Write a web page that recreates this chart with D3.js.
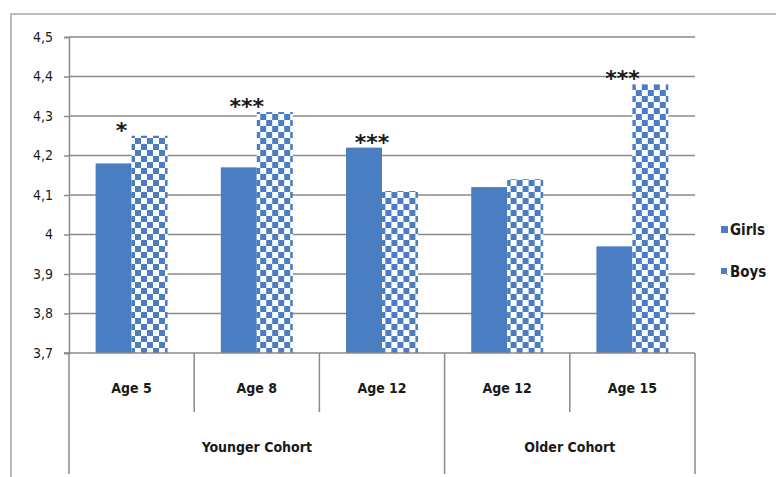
<!DOCTYPE html>
<html>
<head>
<meta charset="utf-8">
<script src="https://cdn.jsdelivr.net/npm/d3@7"></script>
<style>
  html, body { margin: 0; padding: 0; background: #fff; }
  svg { display: block; }
  text { font-family: "Liberation Sans Narrow", "DejaVu Sans Condensed", "Liberation Sans", Arial, sans-serif; fill: #1a1a1a; }
</style>
</head>
<body>
<svg id="chart" width="776" height="477"></svg>
<script>
// ---- data ----
const categories = ["Age 5", "Age 8", "Age 12", "Age 12 ", "Age 15"];
const categoryLabels = ["Age 5", "Age 8", "Age 12", "Age 12", "Age 15"];
const cohorts = ["Younger Cohort", "Older Cohort"];
const cohortOfCategory = [0, 0, 0, 1, 1];
const seriesNames = ["Girls", "Boys"];
const girls = [4.18, 4.17, 4.22, 4.12, 3.97];
const boys = [4.25, 4.31, 4.11, 4.14, 4.38];
const significance = ["*", "***", "***", "", "***"];
const yTicks = [3.7, 3.8, 3.9, 4.0, 4.1, 4.2, 4.3, 4.4, 4.5];
const yTickLabels = ["3,7", "3,8", "3,9", "4", "4,1", "4,2", "4,3", "4,4", "4,5"];

(function () {
// ---- layout ----
const svg = d3.select("#chart");
const mLeft = 69, mRight = 695, mTop = 37, mBottom = 353;
const blue = "#4a7dc2";
const grid = "#8a8a8a";

// outer frame (right and bottom edges outside the picture)
svg.append("path")
  .attr("d", `M11,480 L11,14 L790,14`)
  .attr("fill", "none").attr("stroke", "#a8a8a8").attr("stroke-width", 1.5);

// pattern for Boys
const defs = svg.append("defs");
const pat = defs.append("pattern")
  .attr("id", "checker").attr("patternUnits", "userSpaceOnUse")
  .attr("width", 12).attr("height", 12);
pat.append("rect").attr("width", 12).attr("height", 12).attr("fill", "#fff");
pat.append("rect").attr("x", 0).attr("y", 0).attr("width", 6).attr("height", 6).attr("fill", blue);
pat.append("rect").attr("x", 6).attr("y", 6).attr("width", 6).attr("height", 6).attr("fill", blue);

const x0 = d3.scaleBand().domain(categories).range([mLeft, mRight]).paddingInner(0).paddingOuter(0);
const x1 = d3.scaleBand().domain(seriesNames).range([0, x0.bandwidth()]).paddingInner(0).paddingOuter(0.74);
const y = d3.scaleLinear().domain([3.7, 4.5]).range([mBottom, mTop]);

// gridlines & y axis
const yAxis = d3.axisLeft(y).tickValues(yTicks)
  .tickFormat((d, i) => yTickLabels[i]).tickSize(5).tickPadding(11);
const gy = svg.append("g").attr("transform", `translate(${mLeft},0)`).call(yAxis);
gy.select(".domain").attr("stroke", grid).attr("stroke-width", 1.5);
gy.selectAll(".tick line").attr("stroke", grid).attr("stroke-width", 1.5);
gy.selectAll(".tick text").style("font-size", "14px").attr("fill", "#1a1a1a");

svg.append("g").selectAll("line").data(yTicks.slice(1)).join("line")
  .attr("x1", mLeft).attr("x2", mRight)
  .attr("y1", d => y(d)).attr("y2", d => y(d))
  .attr("stroke", grid).attr("stroke-width", 1.5);

// bars
const rows = categories.map((c, i) => ({ c, vals: [girls[i], boys[i]] }));
const g = svg.append("g").selectAll("g").data(rows).join("g")
  .attr("transform", d => `translate(${x0(d.c)},0)`);
g.selectAll("rect").data(d => d.vals.map((v, j) => ({ s: seriesNames[j], v }))).join("rect")
  .attr("x", d => x1(d.s))
  .attr("width", x1.bandwidth())
  .attr("y", d => y(d.v))
  .attr("height", d => y(3.7) - y(d.v))
  .attr("fill", d => d.s === "Girls" ? blue : "url(#checker)");

// x axis baseline
svg.append("line").attr("x1", mLeft - 5).attr("x2", mRight).attr("y1", mBottom).attr("y2", mBottom)
  .attr("stroke", grid).attr("stroke-width", 1.5);

// category separators
const edges = categories.map(c => x0(c)).concat([mRight]);
edges.forEach((ex, i) => {
  const isGroupEdge = i === 0 || i === edges.length - 1 ||
    cohortOfCategory[i] !== cohortOfCategory[i - 1];
  svg.append("line").attr("x1", ex).attr("x2", ex)
    .attr("y1", mBottom).attr("y2", isGroupEdge ? 474 : 412)
    .attr("stroke", grid).attr("stroke-width", 1.5);
});

// category labels
svg.append("g").selectAll("text").data(categories).join("text")
  .attr("x", d => x0(d) + x0.bandwidth() / 2)
  .attr("y", 393)
  .attr("text-anchor", "middle")
  .style("font-size", "14px").style("font-weight", "bold")
  .text((d, i) => categoryLabels[i]);

// cohort labels
cohorts.forEach((name, k) => {
  const cats = categories.filter((c, i) => cohortOfCategory[i] === k);
  const x = (x0(cats[0]) + x0(cats[cats.length - 1]) + x0.bandwidth()) / 2;
  svg.append("text").attr("x", x).attr("y", 452)
    .attr("text-anchor", "middle")
    .style("font-size", "14px").style("font-weight", "bold")
    .text(name);
});

// significance stars
svg.append("g").selectAll("text").data(categories).join("text")
  .attr("x", d => x0(d) + x0.bandwidth() / 2 - 10)
  .attr("y", (d, i) => y(Math.max(girls[i], boys[i])) + 2)
  .attr("text-anchor", "middle")
  .style("font-size", "22px").style("font-weight", "bold")
  .style("font-family", "'DejaVu Sans', sans-serif")
  .text((d, i) => significance[i]);

// legend
const legend = svg.append("g").selectAll("g").data(seriesNames).join("g")
  .attr("transform", (d, i) => `translate(721,${226 + i * 42})`);
legend.append("rect").attr("width", 7).attr("height", 7)
  .attr("fill", d => d === "Girls" ? blue : "url(#checker)");
legend.append("text").attr("x", 9).attr("y", 9)
  .style("font-size", "15px").style("font-weight", "bold")
  .text(d => d);
})();
</script>
</body>
</html>
